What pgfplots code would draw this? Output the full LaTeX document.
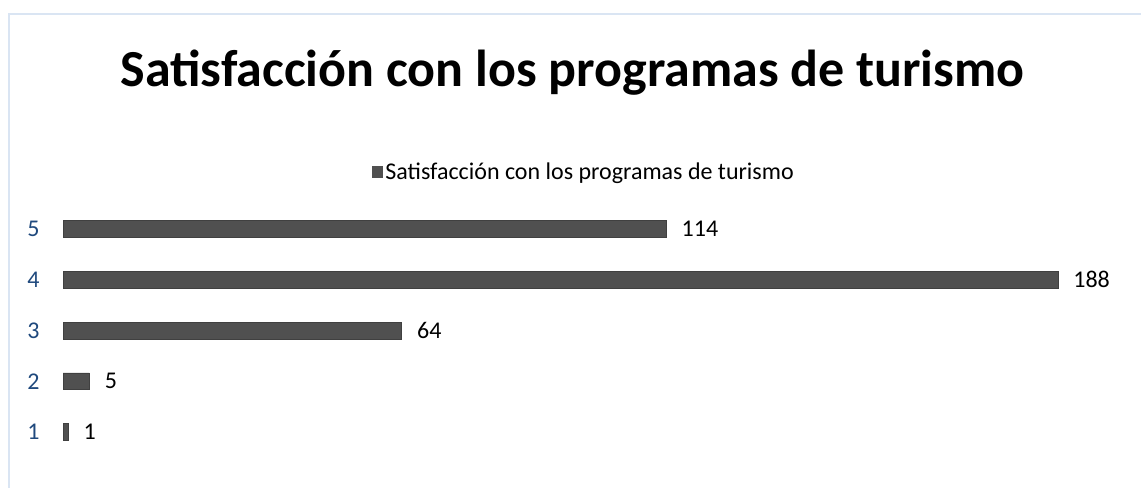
\documentclass[border=0pt]{standalone}
\usepackage{pgfplots}
\pgfplotsset{compat=1.18}
\usepackage{fontspec}
\setmainfont{Carlito}
\definecolor{barc}{RGB}{80,80,80}
\definecolor{tickc}{RGB}{31,73,125}
\definecolor{framec}{RGB}{218,229,243}
\begin{document}
\begin{tikzpicture}[x=0.75pt,y=0.75pt]
\path[use as bounding box] (0,0) rectangle (1141,487);
\draw[framec,line width=1.5pt] (9,-5) -- (9,473) -- (1150,473);
\node[font=\fontsize{39}{44}\selectfont\bfseries] at (572.5,414) {Satisfacción con los programas de turismo};
\begin{axis}[
  at={(47.25pt,22.2pt)}, anchor=south west,
  scale only axis, width=746.25pt, height=190.3pt,
  xmin=0, xmax=188, ymin=0.5, ymax=5.5,
  xbar, bar width=12.5pt, bar shift=0pt,
  axis line style={draw=none}, axis lines*=left,
  xtick=\empty, ytick={1,2,3,4,5},
  major tick length=0pt,
  yticklabel style={text=tickc, font=\fontsize{18}{20}\selectfont, xshift=-14pt},
  /pgf/number format/assume math mode=true,
  nodes near coords,
  nodes near coords style={font=\fontsize{18}{20}\selectfont, text=black, xshift=8pt},
  legend style={at={(axis description cs:0.5236,1.1247)}, anchor=center, draw=none, font=\fontsize{18}{20}\selectfont, legend cell align=left},
  legend image code/.code={\fill[barc] (0pt,-4pt) rectangle (8pt,4pt);},
  clip=false,
]
\addplot[fill=barc, draw=barc!80!black] coordinates {(1,1) (5,2) (64,3) (188,4) (114,5)};
\addlegendentry{Satisfacción con los programas de turismo}
\end{axis}
\end{tikzpicture}
\end{document}
